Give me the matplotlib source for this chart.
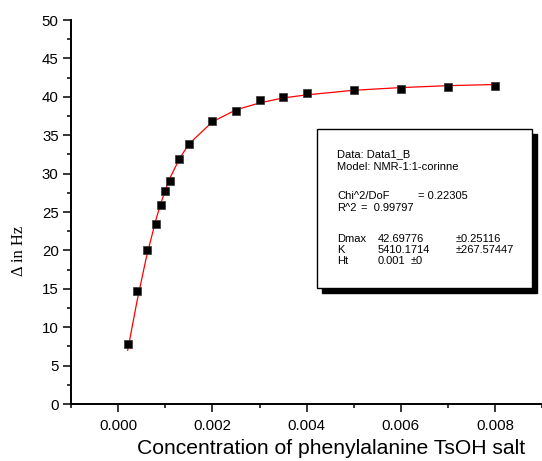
import numpy as np
import matplotlib
matplotlib.use("Agg")
import matplotlib.pyplot as plt
from matplotlib.patches import Rectangle
from matplotlib.ticker import MultipleLocator

# measured points (concentration, shift in Hz)
conc = [0.0002, 0.0004, 0.0006, 0.0008, 0.0009, 0.0010, 0.0011, 0.0013, 0.0015,
        0.0020, 0.0025, 0.0030, 0.0035, 0.0040, 0.0050, 0.0060, 0.0070, 0.0080]
shift = [7.85, 14.7, 20.0, 23.5, 25.9, 27.7, 29.1, 31.85, 33.8,
         36.85, 38.2, 39.55, 40.0, 40.5, 40.85, 41.07, 41.3, 41.45]
# fitted curve, at the same concentrations
fit_shift = [7.0, 13.45, 19.2, 24.0, 26.05, 27.85, 29.45, 31.95, 33.85,
             36.75, 38.3, 39.2, 39.85, 40.25, 40.85, 41.2, 41.45, 41.6]

W, H = 542, 461
fig = plt.figure(figsize=(W / 100, H / 100), dpi=100)
ax = fig.add_axes([71.2 / W, 1 - 404 / H, (542 - 71.2) / W, (404 - 20) / H])

ax.plot(conc, fit_shift, color="red", lw=0.9, zorder=2)
ax.plot(conc, shift, ls="none", marker="s", ms=5.8, mfc="black", mec="#333333", mew=0.5, zorder=3)

ax.set_xlim(-0.001, 0.009)
ax.set_ylim(0, 50)
ax.xaxis.set_major_locator(MultipleLocator(0.002))
ax.xaxis.set_minor_locator(MultipleLocator(0.001))
ax.yaxis.set_major_locator(MultipleLocator(5))
ax.yaxis.set_minor_locator(MultipleLocator(2.5))
ax.xaxis.set_major_formatter(plt.FuncFormatter(lambda v, p: f"{v:.3f}" if v >= -1e-9 else ""))

for s in ("top", "right"):
    ax.spines[s].set_visible(False)
for s in ("left", "bottom"):
    ax.spines[s].set_linewidth(1.4)

ax.tick_params(which="major", direction="out", length=5.5, width=1.1, labelsize=10.8,
               labelfontfamily="Liberation Sans")
ax.tick_params(which="minor", direction="out", length=3, width=1.1)
ax.tick_params(axis="y", pad=3.5)
ax.tick_params(axis="x", pad=5)

ax.set_xlabel("Concentration of phenylalanine TsOH salt", family="Liberation Sans", fontsize=15.2)
ax.xaxis.set_label_coords(0.552, -0.09)
ax.set_ylabel("Δ in Hz", family="Liberation Serif", fontsize=12)
ax.yaxis.label.set_verticalalignment("center")
ax.yaxis.set_label_coords(-0.111, 0.398)


def px(x, y):
    return x / W, 1 - y / H


# fit-result box with drop shadow
bx0, by0, bx1, by1 = 317, 129, 532, 288
sx, sy = px(bx0 + 5, by1 + 5)
fig.patches.append(Rectangle((sx, sy), (bx1 - bx0) / W, (by1 - by0) / H, transform=fig.transFigure,
                             facecolor="black", edgecolor="black", zorder=5))
fx, fy = px(bx0, by1)
fig.patches.append(Rectangle((fx, fy), (bx1 - bx0) / W, (by1 - by0) / H, transform=fig.transFigure,
                             facecolor="white", edgecolor="black", lw=1.0, zorder=6))

txt = dict(fontsize=8, family="Liberation Sans", va="center", ha="left", zorder=7)
rows = [
    (337, 154.5, "Data: Data1_B"),
    (337, 167.5, "Model: NMR-1:1-corinne"),
    (337, 196, "Chi^2/DoF"),
    (418, 196, "= 0.22305"),
    (337, 207.5, "R^2"),
    (361, 207.5, "=  0.99797"),
    (337, 238.5, "Dmax"),
    (378, 238.5, "42.69776"),
    (456, 238.5, "±0.25116"),
    (337, 249.5, "K"),
    (378, 249.5, "5410.1714"),
    (456, 249.5, "±267.57447"),
    (337, 261, "Ht"),
    (378, 261, "0.001"),
    (411, 261, "±0"),
]
for x, y, s in rows:
    fig.text(*px(x, y), s, **txt)

fig.savefig("out.png", dpi=100)
